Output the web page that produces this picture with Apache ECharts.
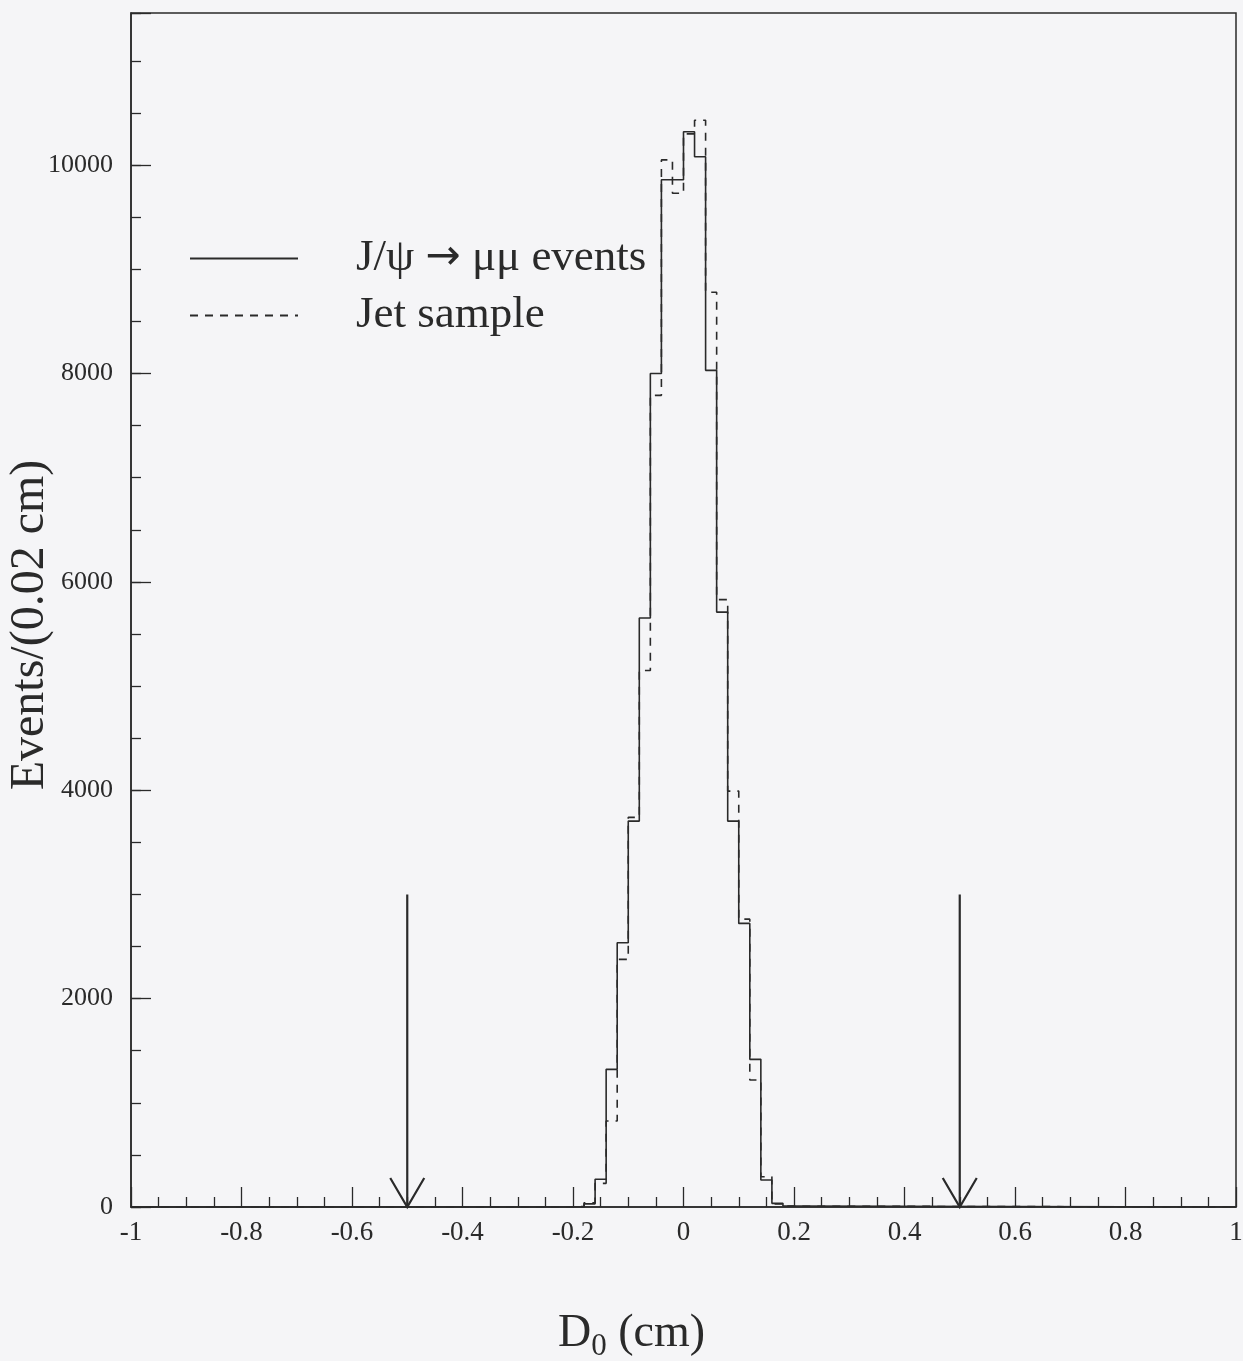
<!DOCTYPE html>
<html><head><meta charset="utf-8">
<script src="https://cdn.jsdelivr.net/npm/echarts@6/dist/echarts.min.js"></script>
<style>html,body{margin:0;padding:0;background:#f5f5f7}#c{width:1243px;height:1361px}</style>
</head><body><div id="c"></div>
<script>
// Bin edges (cm), bin width 0.02 cm
const binEdges = [-0.20,-0.18,-0.16,-0.14,-0.12,-0.10,-0.08,-0.06,-0.04,-0.02,0.00,
                  0.02,0.04,0.06,0.08,0.10,0.12,0.14,0.16,0.18,0.20];
// J/psi -> mu mu events (solid)
const jpsiCounts = [3,30,266,1321,2536,3704,5653,8000,9860,9860,
                    10320,10080,8030,5710,3704,2722,1417,259,35,10];
// Jet sample (dashed)
const jetCounts  = [5,40,227,825,2377,3740,5150,7790,10050,9730,
                    10300,10430,8780,5830,3992,2763,1219,290,30,8];
// Cut positions (arrows)
const cutPositions = [-0.5, 0.5];
const cutArrowTop = 3000;

const xMin = -1, xMax = 1, yMax = 11460;
const JPSI = 'J/\u03C8 \u2192 \u03BC\u03BC events';
const JET = 'Jet sample';

function stepData(edges, counts) {
  const pts = [[xMin, 0]];
  for (let i = 0; i < counts.length; i++) pts.push([edges[i], counts[i]]);
  pts.push([edges[edges.length - 1], 0]);
  pts.push([xMax, 0]);
  return pts;
}

const ink = '#2a2a2a';
const serif = 'Liberation Serif';
const chart = echarts.init(document.getElementById('c'), null, {renderer: 'canvas'});
chart.setOption({
  backgroundColor: '#f5f5f7',
  animation: false,
  grid: {left: 131, right: 7, top: 13, bottom: 154, outerBoundsMode: 'none', containLabel: false,
         show: true, borderColor: ink, borderWidth: 1.5, backgroundColor: 'transparent'},
  legend: {
    data: [JPSI, JET],
    orient: 'vertical', left: 184, top: 231,
    itemWidth: 108, itemHeight: 1, itemGap: 12,
    itemStyle: {color: 'rgba(0,0,0,0)', borderWidth: 0, opacity: 0},
    formatter: n => n === JPSI ? '{t|J/\u03C8 }{s|\u2192}{t| \u03BC\u03BC events}' : '{t|Jet sample}',
    textStyle: {fontFamily: serif, fontSize: 45, color: ink, padding: [0, 0, 0, 53],
      rich: {t: {fontFamily: serif, fontSize: 45, color: ink},
             s: {fontFamily: 'DejaVu Sans', fontSize: 42, color: ink}}},
    selectedMode: false
  },
  xAxis: {
    type: 'value', min: xMin, max: xMax, interval: 0.2,
    name: '{a|D}{b|0}{a| (cm)}', nameLocation: 'middle', nameGap: 98,
    nameTextStyle: {padding: [0, 104, 0, 0], rich: {
      a: {fontFamily: serif, fontSize: 46, color: ink},
      b: {fontFamily: serif, fontSize: 31, color: ink, padding: [26, 0, 0, 0]}
    }},
    axisLine: {onZero: false, lineStyle: {color: ink, width: 1.5}},
    axisTick: {inside: true, length: 20, lineStyle: {color: ink, width: 1.3}},
    minorTick: {show: true, splitNumber: 4, length: 10, lineStyle: {color: ink, width: 1.3}},
    axisLabel: {fontFamily: serif, fontSize: 27, color: ink, margin: 12},
    splitLine: {show: false}, minorSplitLine: {show: false}
  },
  yAxis: [{
    type: 'value', min: 0, max: yMax, interval: 2000, position: 'left',
    name: 'Events/(0.02 cm)', nameLocation: 'middle', nameGap: 77, nameMoveOverlap: false,
    nameTextStyle: {fontFamily: serif, fontSize: 48, color: ink, padding: [0, 30, 0, 0]},
    axisLine: {show: true, onZero: false, lineStyle: {color: ink, width: 1.5}},
    axisTick: {inside: true, length: 20, lineStyle: {color: ink, width: 1.3}},
    axisLabel: {fontFamily: serif, fontSize: 26, color: ink, margin: 18,
      formatter: v => (v % 2000 === 0 ? String(v) : '')},
    splitLine: {show: false}
  }, {
    type: 'value', min: 0, max: yMax, interval: 500, position: 'left',
    axisLine: {show: false, onZero: false},
    axisTick: {inside: true, length: 10, lineStyle: {color: ink, width: 1.3}},
    axisLabel: {show: false}, splitLine: {show: false}
  }],
  series: [{
    name: JPSI, type: 'line', step: 'end',
    data: stepData(binEdges, jpsiCounts), symbol: 'none',
    lineStyle: {color: ink, width: 1.6}, itemStyle: {color: ink}, z: 3
  }, {
    name: JET, type: 'line', step: 'end',
    data: stepData(binEdges, jetCounts), symbol: 'none',
    lineStyle: {color: ink, width: 1.6, type: [8, 7]}, itemStyle: {color: ink}, z: 2
  }, {
    name: 'cuts', type: 'custom',
    data: cutPositions.map(x => [x, cutArrowTop]),
    renderItem: function (params, api) {
      const top = api.coord([api.value(0), api.value(1)]);
      const bot = api.coord([api.value(0), 0]);
      const st = {stroke: ink, lineWidth: 2.2, fill: null};
      return {type: 'group', children: [
        {type: 'line', shape: {x1: top[0], y1: top[1], x2: bot[0], y2: bot[1]}, style: st},
        {type: 'polyline', shape: {points: [[bot[0] - 17, bot[1] - 29], [bot[0], bot[1]], [bot[0] + 17, bot[1] - 29]]}, style: st}
      ]};
    }, z: 4
  }]
});
</script></body></html>
